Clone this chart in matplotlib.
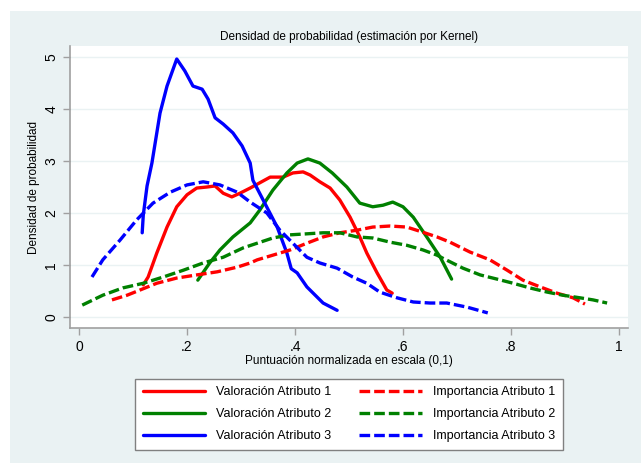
import matplotlib
matplotlib.use("Agg")
import matplotlib.pyplot as plt
from matplotlib.patches import Rectangle

plt.rcParams['font.family'] = ['Liberation Sans', 'DejaVu Sans']

# Valoración Atributo 1 (red solid)
v1_x = [0.119, 0.128, 0.144, 0.163, 0.181, 0.200, 0.218, 0.237, 0.252, 0.267, 0.283, 0.298,
        0.317, 0.354, 0.378, 0.396, 0.415, 0.428, 0.446, 0.465, 0.483, 0.502, 0.520, 0.533,
        0.552, 0.570, 0.580]
v1_y = [0.62, 0.77, 1.23, 1.73, 2.12, 2.35, 2.48, 2.50, 2.52, 2.38, 2.31, 2.38,
        2.48, 2.69, 2.69, 2.77, 2.79, 2.73, 2.60, 2.48, 2.25, 1.92, 1.54, 1.23,
        0.85, 0.52, 0.46]

# Valoración Atributo 2 (green solid)
v2_x = [0.220, 0.242, 0.261, 0.285, 0.317, 0.335, 0.359, 0.385, 0.404, 0.424, 0.446, 0.469,
        0.496, 0.520, 0.544, 0.563, 0.581, 0.600, 0.619, 0.644, 0.669, 0.690]
v2_y = [0.71, 1.04, 1.29, 1.54, 1.81, 2.06, 2.44, 2.77, 2.96, 3.04, 2.96, 2.77,
        2.50, 2.19, 2.12, 2.15, 2.21, 2.12, 1.92, 1.54, 1.15, 0.73]

# Valoración Atributo 3 (blue solid)
v3_x = [0.117, 0.119, 0.126, 0.135, 0.150, 0.163, 0.181, 0.196, 0.211, 0.228, 0.239, 0.252,
        0.267, 0.285, 0.302, 0.317, 0.322, 0.341, 0.367, 0.385, 0.393, 0.404, 0.422, 0.452,
        0.478]
v3_y = [1.62, 1.96, 2.52, 2.96, 3.92, 4.44, 4.96, 4.73, 4.44, 4.38, 4.19, 3.83,
        3.71, 3.54, 3.29, 2.96, 2.63, 2.25, 1.73, 1.23, 0.93, 0.85, 0.58, 0.27,
        0.13]

# Importancia Atributo 1 (red dashed)
i1_x = [0.061, 0.089, 0.113, 0.144, 0.181, 0.218, 0.256, 0.293, 0.317, 0.330, 0.359, 0.391,
        0.422, 0.452, 0.483, 0.515, 0.544, 0.576, 0.607, 0.637, 0.663, 0.687, 0.724, 0.761,
        0.793, 0.822, 0.854, 0.885, 0.915, 0.937]
i1_y = [0.33, 0.42, 0.52, 0.65, 0.75, 0.81, 0.87, 0.96, 1.04, 1.10, 1.19, 1.29,
        1.42, 1.54, 1.62, 1.67, 1.73, 1.75, 1.73, 1.63, 1.54, 1.44, 1.25, 1.10,
        0.90, 0.71, 0.58, 0.46, 0.37, 0.25]

# Importancia Atributo 2 (green dashed)
i2_x = [0.006, 0.044, 0.081, 0.119, 0.156, 0.193, 0.230, 0.267, 0.304, 0.330, 0.359, 0.390,
        0.422, 0.452, 0.483, 0.515, 0.544, 0.576, 0.607, 0.637, 0.663, 0.674, 0.711, 0.743,
        0.774, 0.804, 0.835, 0.867, 0.896, 0.928, 0.952, 0.978]
i2_y = [0.23, 0.42, 0.56, 0.65, 0.77, 0.90, 1.04, 1.15, 1.33, 1.42, 1.52, 1.58,
        1.60, 1.62, 1.62, 1.54, 1.52, 1.44, 1.38, 1.29, 1.19, 1.13, 0.94, 0.81,
        0.73, 0.65, 0.56, 0.48, 0.42, 0.37, 0.33, 0.27]

# Importancia Atributo 3 (blue dashed)
i3_x = [0.024, 0.044, 0.076, 0.107, 0.137, 0.169, 0.200, 0.230, 0.261, 0.293, 0.317, 0.348,
        0.372, 0.396, 0.422, 0.446, 0.478, 0.507, 0.533, 0.557, 0.589, 0.619, 0.650, 0.681,
        0.719, 0.757]
i3_y = [0.77, 1.10, 1.48, 1.87, 2.19, 2.40, 2.54, 2.60, 2.54, 2.40, 2.21, 2.00,
        1.67, 1.42, 1.15, 1.04, 0.94, 0.77, 0.65, 0.48, 0.37, 0.29, 0.27, 0.27,
        0.19, 0.08]

x_ticks = [0, 0.2, 0.4, 0.6, 0.8, 1.0]
x_tick_labels = ['0', '.2', '.4', '.6', '.8', '1']
y_ticks = [0, 1, 2, 3, 4, 5]
y_tick_labels = ['0', '1', '2', '3', '4', '5']

labels = ['Valoración Atributo 1', 'Valoración Atributo 2', 'Valoración Atributo 3',
          'Importancia Atributo 1', 'Importancia Atributo 2', 'Importancia Atributo 3']

BG = '#EAF2F3'
W, H = 641, 463
fig = plt.figure(figsize=(W / 100, H / 100), dpi=100, facecolor='white')
fig.patches.append(Rectangle((10 / W, 0), 1, 1 - 11 / H, transform=fig.transFigure,
                             facecolor=BG, edgecolor='none', zorder=-10))

ax = fig.add_axes([70 / W, 1 - 328 / H, (628 - 70) / W, (328 - 46) / H])
ax.set_facecolor('white')

lw = 2.4
dash = (0, (3.2, 1.2))
l1, = ax.plot(v1_x, v1_y, color='#FF0000', lw=lw, solid_capstyle='round')
l2, = ax.plot(v2_x, v2_y, color='#008000', lw=lw, solid_capstyle='round')
l3, = ax.plot(v3_x, v3_y, color='#0000FF', lw=lw, solid_capstyle='round')
l4, = ax.plot(i1_x, i1_y, color='#FF0000', lw=lw, linestyle=dash)
l5, = ax.plot(i2_x, i2_y, color='#008000', lw=lw, linestyle=dash)
l6, = ax.plot(i3_x, i3_y, color='#0000FF', lw=lw, linestyle=dash)

ax.set_xlim(-0.0167, 1.0167)
ax.set_ylim(-0.21, 5.21)
ax.set_xticks(x_ticks)
ax.set_xticklabels(x_tick_labels, fontsize=10)
ax.set_yticks(y_ticks)
ax.set_yticklabels(y_tick_labels, fontsize=10, rotation=90, va='center')
ax.grid(axis='y', color=BG, lw=1.0)
ax.set_axisbelow(True)
for s in ['top', 'right']:
    ax.spines[s].set_visible(False)
for s in ['left', 'bottom']:
    ax.spines[s].set_color('#A0A0A0')
    ax.spines[s].set_linewidth(1.2)
ax.tick_params(axis='both', colors='#A0A0A0', labelcolor='black', length=5, width=1)

ax.set_title('Densidad de probabilidad (estimación por Kernel)', fontsize=8.5, pad=4)
ax.set_xlabel('Puntuación normalizada en escala (0,1)', fontsize=8.5, labelpad=1)
ax.set_ylabel('Densidad de probabilidad', fontsize=8.5, labelpad=3)

leg = fig.legend([l1, l2, l3, l4, l5, l6], labels, ncol=2, loc='center',
                 bbox_to_anchor=(349 / W, 1 - 414 / H), fontsize=9, frameon=True,
                 fancybox=False, edgecolor='#808080', facecolor='white', framealpha=1,
                 handlelength=5.0, handletextpad=0.9, columnspacing=2.2,
                 labelspacing=0.8, borderpad=0.6)
leg.get_frame().set_linewidth(1.0)

fig.savefig('out.png', dpi=100, facecolor='white')
